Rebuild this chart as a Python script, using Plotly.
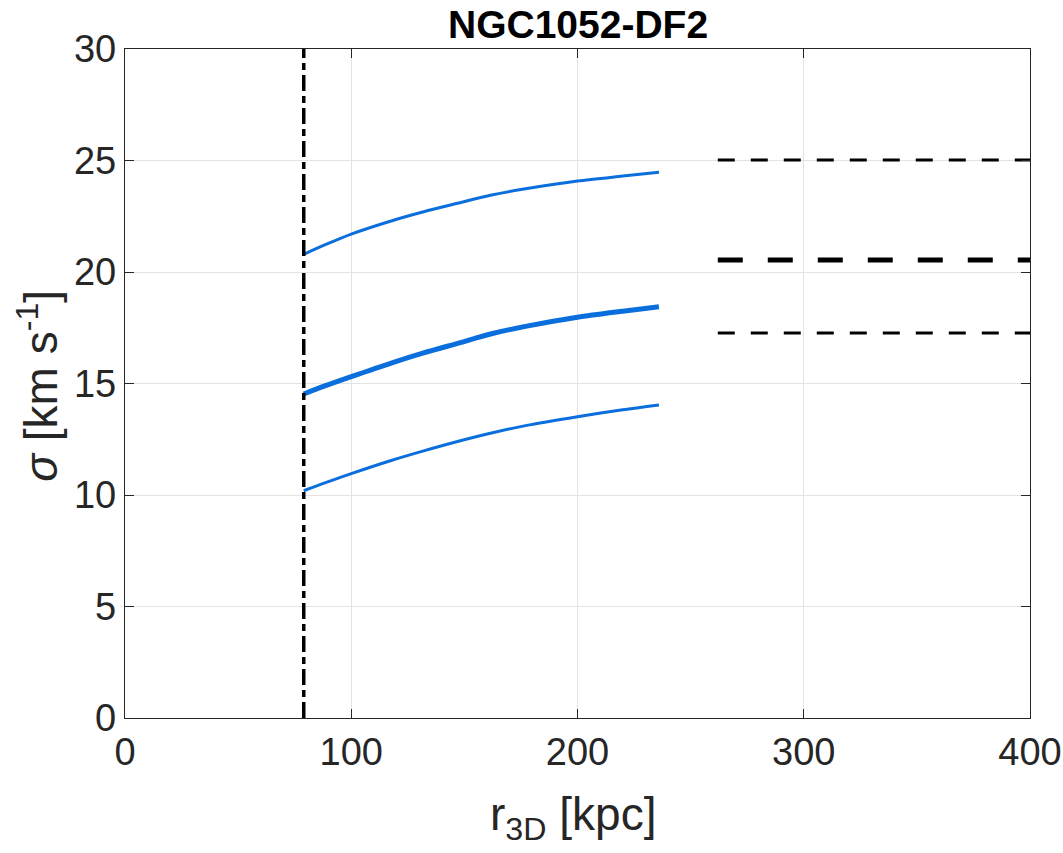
import plotly.graph_objects as go

# Data
r_curve = [79, 88, 100, 118, 132, 147, 162, 177, 200, 220, 236]
sigma_upper = [20.79, 21.20, 21.70, 22.30, 22.70, 23.08, 23.45, 23.73, 24.08, 24.30, 24.47]
sigma_mid = [14.53, 14.88, 15.31, 15.93, 16.37, 16.80, 17.23, 17.56, 17.97, 18.24, 18.44]
sigma_lower = [10.19, 10.53, 10.96, 11.56, 11.98, 12.40, 12.78, 13.11, 13.51, 13.82, 14.04]

r_obs = [262, 400]
obs_upper = 25.02
obs_mid = 20.54
obs_lower = 17.26

r_min = 79

x_ticks = [0, 100, 200, 300, 400]
y_ticks = [0, 5, 10, 15, 20, 25, 30]

blue = "#0a6fdc"
axcol = "#262626"
font = "Liberation Sans, Arial, Helvetica, sans-serif"

fig = go.Figure()

# model curves
for ys, w in [(sigma_upper, 3), (sigma_mid, 5), (sigma_lower, 3)]:
    fig.add_trace(go.Scatter(x=r_curve, y=ys, mode="lines",
                             line=dict(color=blue, width=w, shape="spline", smoothing=0.8),
                             showlegend=False, hoverinfo="skip"))

# observed dispersion lines
for yv, w, dash in [(obs_upper, 3, "17px,16px"), (obs_mid, 5, "25px,25px"),
                    (obs_lower, 3, "17px,16px")]:
    fig.add_trace(go.Scatter(x=r_obs, y=[yv, yv], mode="lines",
                             line=dict(color="black", width=w, dash=dash),
                             showlegend=False, hoverinfo="skip"))

# vertical dash-dot line
fig.add_trace(go.Scatter(x=[r_min, r_min], y=[0, 30], mode="lines",
                         line=dict(color="black", width=3.5, dash="16px,5px,7px,5px"),
                         showlegend=False, hoverinfo="skip"))

axis_common = dict(
    showline=True, linecolor=axcol, linewidth=1.3, mirror="ticks",
    ticks="inside", ticklen=9, tickwidth=1.3, tickcolor=axcol,
    showgrid=True, gridcolor="#e3e3e3", gridwidth=1,
    zeroline=False, automargin=False,
    tickfont=dict(family=font, size=38, color=axcol),
)

fig.update_xaxes(range=[0, 400], tickvals=x_ticks, ticktext=[str(v) for v in x_ticks],
                 **axis_common)
fig.update_yaxes(range=[0, 30], tickvals=y_ticks, ticktext=[str(v) for v in y_ticks],
                 **axis_common)

fig.update_layout(
    width=1063, height=853,
    margin=dict(l=125, r=33, t=49, b=135),
    paper_bgcolor="white", plot_bgcolor="white",
    font=dict(family=font, color=axcol),
    annotations=[
        dict(text="<b>NGC1052-DF2</b>", xref="paper", yref="paper",
             x=0.5, y=1.036, xanchor="center", yanchor="middle",
             showarrow=False, font=dict(family=font, size=39, color="black")),
        dict(text="r<sub>3D</sub> [kpc]", xref="paper", yref="paper",
             x=0.495, y=-0.148, xanchor="center", yanchor="middle",
             showarrow=False, font=dict(family=font, size=46, color=axcol)),
        dict(text="<i>σ</i> [km s<sup>-1</sup>]", xref="paper", yref="paper",
             x=-0.097, y=0.497, xanchor="center", yanchor="middle", textangle=-90,
             showarrow=False, font=dict(family=font, size=46, color=axcol)),
    ],
)

fig.write_html("out.html")
